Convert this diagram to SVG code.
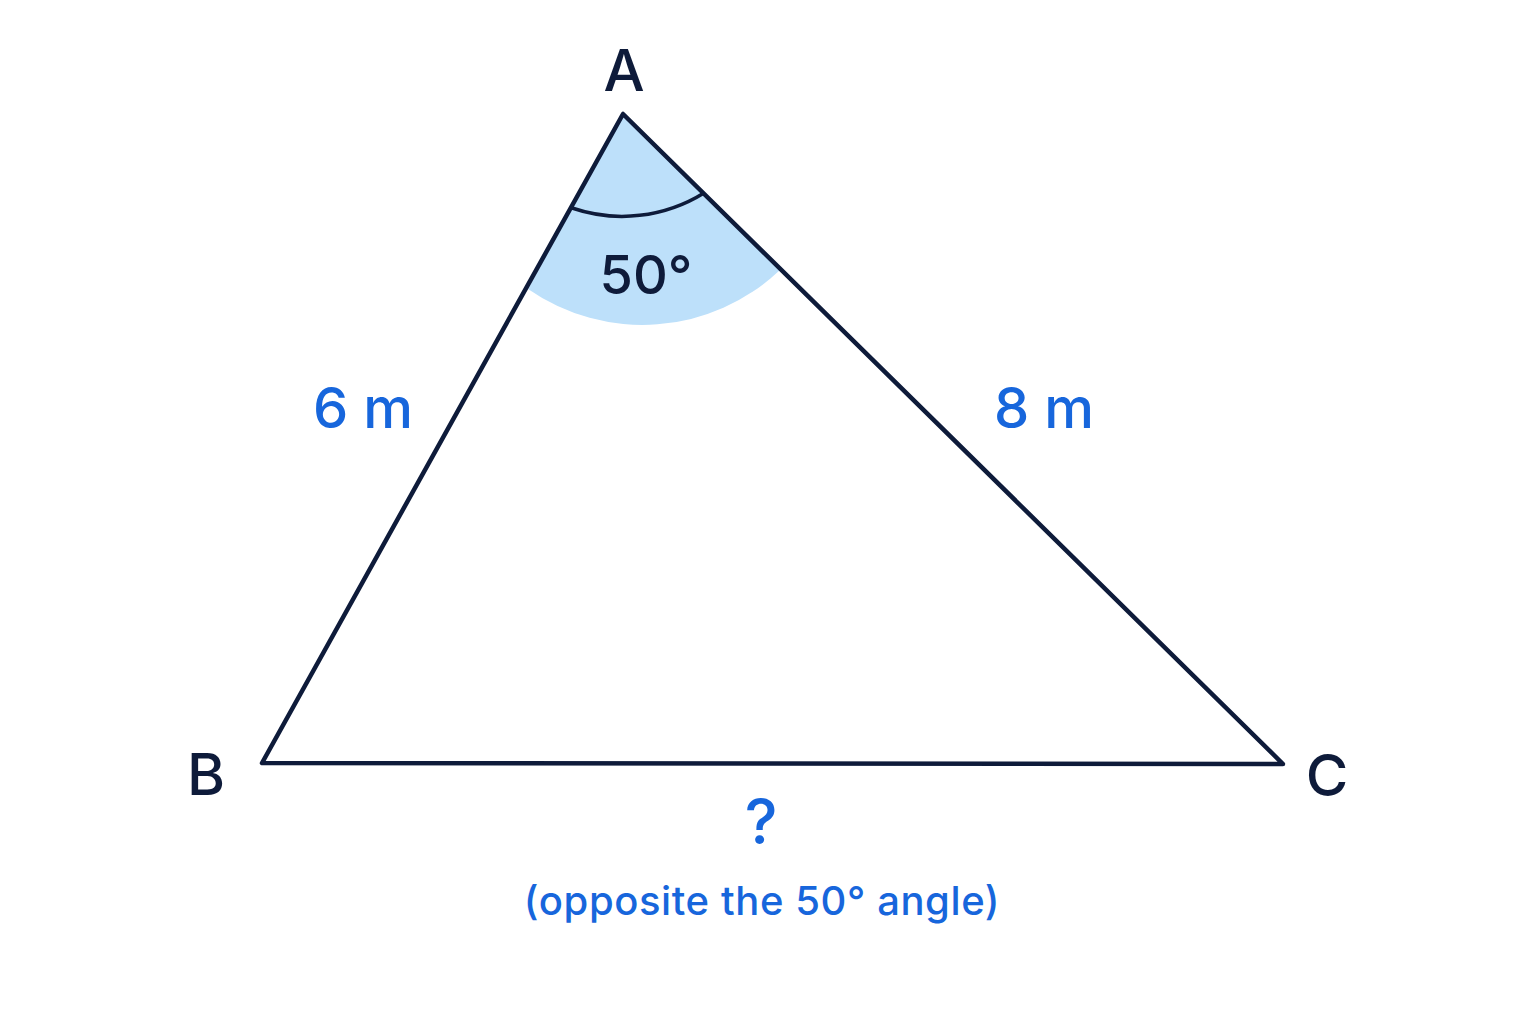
<svg xmlns="http://www.w3.org/2000/svg" width="1536" height="1024" viewBox="0 0 1536 1024">
<style>
.lbl{font-family:Inter,"Liberation Sans",Arial,sans-serif;font-weight:500;fill:#0e1b3a;text-anchor:middle}
.blue{font-family:Inter,"Liberation Sans",Arial,sans-serif;font-weight:500;fill:#1766dc;text-anchor:middle}
.edge{fill:none;stroke:#0e1b3a;stroke-width:4.5;stroke-linejoin:round;stroke-linecap:round}
</style>
<rect width="1536" height="1024" fill="#ffffff"/>
<g id="angle">
<path d="M623 114 L528 289 A200 200 0 0 0 780 270 Z" fill="#bde0fa"/>
<path d="M572 208 A155 155 0 0 0 704 193" fill="none" stroke="#0e1b3a" stroke-width="3.5"/>
<text class="lbl" x="646" y="294" font-size="54">50°</text>
</g>
<g id="connectors">
<path class="edge" d="M623 114 L262 763 L1283 764 Z"/>
</g>
<g id="A"><text class="lbl" x="624" y="91" font-size="58">A</text></g>
<g id="B"><text class="lbl" x="206" y="795" font-size="58">B</text></g>
<g id="C"><text class="lbl" x="1327" y="796" font-size="58">C</text></g>
<g id="side-AB"><text class="blue" x="363" y="428" font-size="56">6 m</text></g>
<g id="side-AC"><text class="blue" x="1044" y="428" font-size="56">8 m</text></g>
<g id="side-BC">
<text class="blue" x="761" y="844" font-size="62">?</text>
<text class="blue" x="762" y="915" font-size="40" font-weight="400" letter-spacing="0.6">(opposite the 50° angle)</text>
</g>
</svg>
